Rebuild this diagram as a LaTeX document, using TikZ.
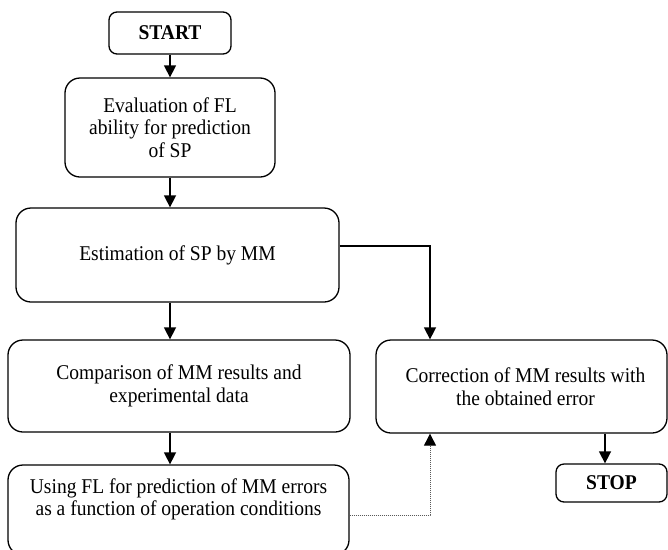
\documentclass[tikz,border=0pt]{standalone}
\usepackage{fontspec}
\setmainfont{Liberation Serif}[FakeStretch=0.93]
\usetikzlibrary{arrows.meta,calc}
\begin{document}
\begin{tikzpicture}[x=1pt,y=-1pt,
  box/.style={draw=black,line width=1.3pt,rounded corners=15pt,align=center,
    inner sep=0pt,font=\fontsize{21}{22.5}\selectfont},
  term/.style={draw=black,line width=1.3pt,rounded corners=8pt,align=center,
    inner sep=0pt,font=\fontsize{21}{22.5}\selectfont\bfseries},
  arr/.style={line width=1.5pt,-{Triangle[length=12pt,width=12pt]}},
  dotarr/.style={line width=1pt,densely dotted,draw=black!65,
    -{Triangle[length=12pt,width=12pt,color=black,fill=black]}}]
\useasboundingbox (0,0) rectangle (668,549);
\node[term,minimum width=122pt,minimum height=42pt] (start) at (170,33) {START};
\node[box,minimum width=210pt,minimum height=99pt] (eval) at (170,127.5)
  {Evaluation of FL\\ability for prediction\\of SP};
\node[box,minimum width=323pt,minimum height=94pt] (est) at (177.5,255)
  {Estimation of SP by MM};
\node[box,minimum width=342pt,minimum height=92pt] (comp) at (179,386)
  {Comparison of MM results and\\experimental data};
\node[box,minimum width=291pt,minimum height=93pt] (corr) at (521.5,386.5)
  {\hspace*{8pt}Correction of MM results with\\\hspace*{8pt}the obtained error};
\node[box,minimum width=341pt,minimum height=90pt] (use) at (178.5,510)
  {Using FL for prediction of MM errors\\as a function of operation conditions\\[3pt]};
\node[term,minimum width=111pt,minimum height=38pt] (stop) at (611.5,483) {STOP};
\coordinate (cx) at (430,0);
\coordinate (sx) at (605,0);
\draw[arr] (start) -- (eval);
\draw[arr] (eval.south) -- (eval.south |- est.north);
\draw[arr] (est.south -| eval.south) -- (comp.north -| eval.south);
\draw[arr] ([yshift=9pt]est.east) -| (corr.north -| cx);
\draw[arr] (comp.south -| eval.south) -- (use.north -| eval.south);
\draw[dotarr] ([yshift=-5pt]use.east) -| (corr.south -| cx);
\draw[arr] (corr.south -| sx) -- (stop.north -| sx);
\end{tikzpicture}
\end{document}
